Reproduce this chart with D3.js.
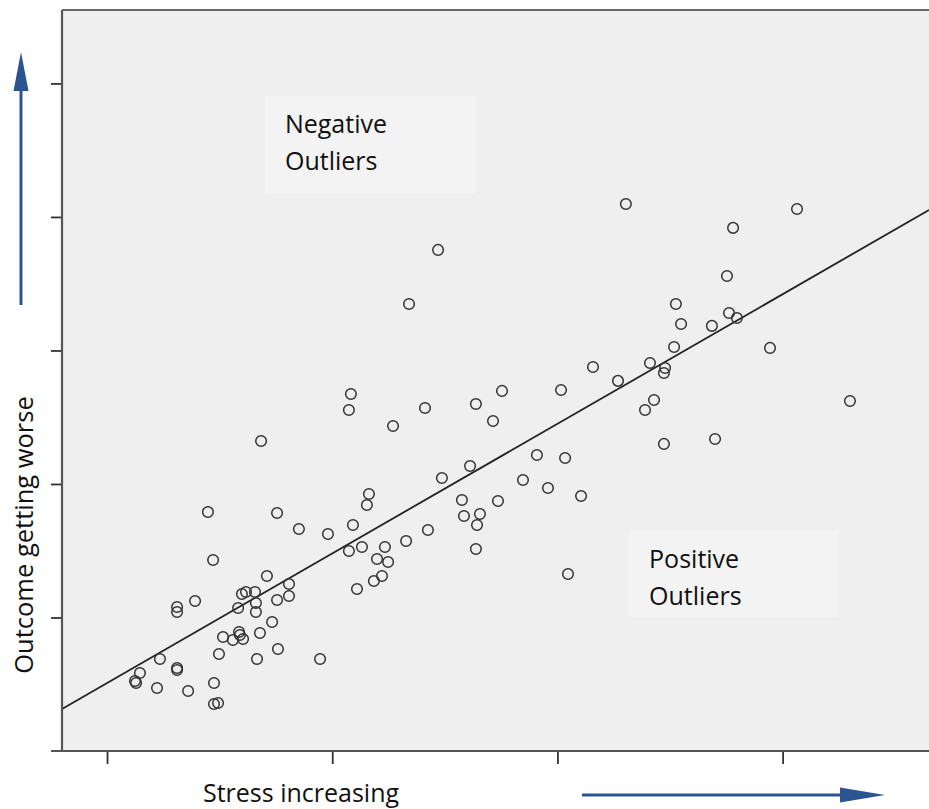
<!DOCTYPE html>
<html><head><meta charset="utf-8">
<script src="https://cdn.jsdelivr.net/npm/d3@7"></script>
<style>body{margin:0;background:#fff}svg{display:block}</style>
</head><body>
<svg id="c" width="929" height="809"></svg>
<script>
// Stress (x) and outcome (y) values
const stress = [33.04,40.64,37.80,24.70,37.53,23.41,35.26,37.62,37.97,35.49,36.86,35.18,39.44,31.58,34.11,34.78,34.73,32.69,27.54,30.16,20.83,20.74,24.12,26.38,34.29,33.89,42.99,27.14,22.70,34.73,37.00,16.84,29.09,30.34,26.12,24.87,28.47,29.58,31.05,21.63,21.54,25.76,27.36,14.48,17.55,25.85,26.56,26.43,20.92,18.52,24.25,19.81,23.28,22.34,20.74,21.32,26.38,14.71,21.99,22.48,22.21,21.85,21.10,30.47,17.10,18.08,16.57,16.17,15.99,18.08,17.55,16.61,13.91,13.11,13.11,15.82,16.61,17.33,15.15,15.86,15.90,15.59,16.04,16.79,14.97,17.59,16.66,12.35,19.46,11.46,11.29,11.24,13.11,13.11,12.22,13.60,14.75,14.75,14.93];
const outcome = [40.97,40.60,39.18,37.53,35.58,33.48,33.48,32.81,32.43,31.98,31.84,30.26,30.19,28.76,29.06,28.69,28.31,27.72,26.97,27.04,26.74,25.54,25.69,25.99,26.29,25.54,26.22,24.72,24.34,23.00,23.37,23.22,22.17,21.95,21.35,20.45,20.30,19.70,19.10,19.25,18.43,18.80,18.73,17.90,17.83,17.60,17.75,16.93,16.93,16.63,16.55,16.25,15.73,15.28,14.98,15.28,15.13,14.31,14.38,14.16,13.11,12.73,12.13,13.26,13.11,12.51,11.91,11.91,11.76,11.61,11.31,11.09,11.24,10.79,10.41,10.71,10.41,9.66,8.54,8.91,8.69,8.31,8.39,8.84,7.27,7.64,6.89,6.89,6.89,5.84,5.09,5.24,6.22,6.07,4.72,4.49,5.09,3.52,3.60];
const xTicks = [10, 20, 30, 40];
const yTicks = [10, 20, 30, 40, 50];
const fitIntercept = -4.616, fitSlope = 0.9707;
const xLabel = "Stress increasing";
const yLabel = "Outcome getting worse";
const notes = [
  {lines: ["Negative", "Outliers"], x: 17.9, y: 46.3},
  {lines: ["Positive", "Outliers"], x: 34.07, y: 13.71}
];

const svg = d3.select("#c");
const L = 62, T = 10, R = 929, B = 751;
const x = d3.scaleLinear().domain([8, 46.5]).range([L, R]);
const y = d3.scaleLinear().domain([0, 55.5]).range([B, T]);
const font = "'Open Sans', sans-serif";

svg.append("rect").attr("x", L).attr("y", T).attr("width", R - L + 5).attr("height", B - T).attr("fill", "#efefef");

// note boxes
notes.forEach((n, i) => {
  const g = svg.append("g");
  const bx = x(n.x) - 20, by = y(n.y) - 37;
  g.append("rect").attr("x", bx).attr("y", by).attr("width", i === 0 ? 210 : 209).attr("height", i === 0 ? 98 : 86).attr("fill", "#f3f3f3");
  n.lines.forEach((t, j) => {
    g.append("text").attr("x", x(n.x)).attr("y", y(n.y) + j * 37)
      .attr("font-family", font).attr("font-size", 25).attr("fill", "#111").text(t);
  });
});

// regression line
svg.append("line")
  .attr("x1", x(8)).attr("y1", y(fitIntercept + fitSlope * 8))
  .attr("x2", x(46.5)).attr("y2", y(fitIntercept + fitSlope * 46.5))
  .attr("stroke", "#222").attr("stroke-width", 1.8);

// points
svg.append("g").selectAll("circle").data(stress.map((s, i) => [s, outcome[i]])).join("circle")
  .attr("cx", d => x(d[0])).attr("cy", d => y(d[1])).attr("r", 5.3)
  .attr("fill", "none").attr("stroke", "#333").attr("stroke-width", 1.5);

// axes
const xa = svg.append("g").attr("transform", `translate(0,${B})`)
  .call(d3.axisBottom(x).tickValues(xTicks).tickSize(13).tickFormat(""));
const ya = svg.append("g").attr("transform", `translate(${L},0)`)
  .call(d3.axisLeft(y).tickValues(yTicks).tickSize(11).tickFormat(""));
[xa, ya].forEach(a => {
  a.select(".domain").remove();
  a.selectAll(".tick line").attr("stroke", "#333").attr("stroke-width", 1.8);
});
svg.append("line").attr("x1", 51).attr("x2", R).attr("y1", B).attr("y2", B).attr("stroke", "#555").attr("stroke-width", 2.2);
svg.append("line").attr("x1", L).attr("x2", L).attr("y1", T).attr("y2", B).attr("stroke", "#555").attr("stroke-width", 2.2);
svg.append("line").attr("x1", L).attr("x2", R).attr("y1", T).attr("y2", T).attr("stroke", "#666").attr("stroke-width", 2);

// labels
svg.append("text").attr("x", 301).attr("y", 801.5).attr("text-anchor", "middle")
  .attr("font-family", font).attr("font-size", 25).attr("fill", "#111").text(xLabel);
svg.append("text").attr("transform", "translate(33,535) rotate(-90)").attr("text-anchor", "middle")
  .attr("font-family", font).attr("font-size", 25.5).attr("fill", "#111").text(yLabel);

// arrows
const blue = "#2a5591";
svg.append("line").attr("x1", 21).attr("x2", 21).attr("y1", 305).attr("y2", 88).attr("stroke", blue).attr("stroke-width", 3);
svg.append("path").attr("d", "M21,52 L28.5,91 L13.5,91 Z").attr("fill", blue);
svg.append("line").attr("x1", 582).attr("x2", 842).attr("y1", 795).attr("y2", 795).attr("stroke", blue).attr("stroke-width", 3);
svg.append("path").attr("d", "M885,795 L840,787.5 L840,802.5 Z").attr("fill", blue);
</script>
</body></html>
